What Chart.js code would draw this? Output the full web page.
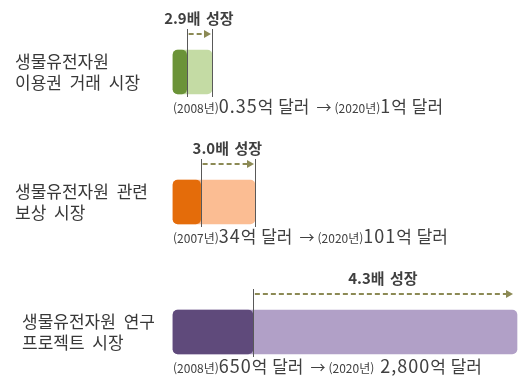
<!DOCTYPE html>
<html lang="ko">
<head>
<meta charset="utf-8">
<script src="https://cdn.jsdelivr.net/npm/chart.js@4.4.1/dist/chart.umd.min.js"></script>
<style>
  html, body { margin: 0; padding: 0; background: #fff; }
  #wrap { width: 518px; height: 380px; position: relative; }
</style>
</head>
<body>
<div id="wrap"><canvas id="growth"></canvas></div>
<script>
// market names (two lines each), base year values and 2020 values, in 억 달러
const marketNames = [
  ["생물유전자원", "이용권 거래 시장"],
  ["생물유전자원 관련", "보상 시장"],
  ["생물유전자원 연구", "프로젝트 시장"],
];
const baseYears = [2008, 2007, 2008];
const targetYear = 2020;
const baseValues = [0.35, 34, 650];
const targetValues = [1, 101, 2800];

const darkColors = ["#6b9338", "#e46c0a", "#5f4a7b"];
const lightColors = ["#c4dba4", "#fbbd93", "#b1a0c7"];
const scaleMax = [8.82, 423.7, 2800];
const nameLeft = [15, 15, 22];
const endMarker = [true, true, false];
const FONT = '"Noto Sans CJK KR", "Noto Sans", sans-serif';

function onlyRow(row, value) {
  return marketNames.map((_, i) => (i === row ? value : null));
}

function formatValue(v) {
  return v.toLocaleString("en-US");
}

const datasets = [];
marketNames.forEach((_, i) => {
  datasets.push({
    label: `${targetYear}`,
    data: onlyRow(i, targetValues[i]),
    xAxisID: "x" + i,
    backgroundColor: lightColors[i],
    order: 2,
  });
  datasets.push({
    label: `${baseYears[i]}`,
    data: onlyRow(i, baseValues[i]),
    xAxisID: "x" + i,
    backgroundColor: darkColors[i],
    order: 1,
  });
});

const scales = {
  y: { type: "category", offset: false, display: false, grid: { display: false } },
};
scaleMax.forEach((max, i) => {
  scales["x" + i] = { type: "linear", min: 0, max: max, display: false, grid: { display: false } };
});

function drawArrow(ctx, x1, x2, y) {
  ctx.save();
  ctx.strokeStyle = "#8c8a55";
  ctx.fillStyle = "#8c8a55";
  ctx.lineWidth = 2;
  ctx.setLineDash([5, 3]);
  ctx.beginPath();
  ctx.moveTo(x1, y);
  ctx.lineTo(x2 - 6, y);
  ctx.stroke();
  ctx.setLineDash([]);
  ctx.beginPath();
  ctx.moveTo(x2, y);
  ctx.lineTo(x2 - 7, y - 4);
  ctx.lineTo(x2 - 7, y + 4);
  ctx.closePath();
  ctx.fill();
  ctx.restore();
}

// one line of mixed-size text, left to right
function drawParts(ctx, parts, x, y) {
  parts.forEach((p) => {
    ctx.font = `${p.size}px ${FONT}`;
    ctx.wordSpacing = p.words || "0px";
    ctx.letterSpacing = p.letters || "0px";
    ctx.fillText(p.text, x, y);
    x += ctx.measureText(p.text).width + (p.after || 0);
  });
  ctx.wordSpacing = "0px";
  ctx.letterSpacing = "0px";
}

function valueParts(year, value, after) {
  return [
    { text: `(${year}년)`, size: 12, after: after },
    { text: formatValue(value), size: 18, letters: "1px" },
    { text: "억 달러", size: 17, words: "1px" },
  ];
}

const growthLabels = {
  id: "growthLabels",
  afterDatasetsDraw(chart) {
    const ctx = chart.ctx;
    ctx.save();

    marketNames.forEach((lines, i) => {
      const target = chart.getDatasetMeta(i * 2).data[i];
      const base = chart.getDatasetMeta(i * 2 + 1).data[i];
      const top = target.y - target.height / 2;
      const bottom = target.y + target.height / 2;
      const left = target.base;

      // market name
      ctx.fillStyle = "#383838";
      ctx.textAlign = "left";
      ctx.textBaseline = "middle";
      ctx.font = `17px ${FONT}`;
      ctx.wordSpacing = "4px";
      ctx.fillText(lines[0], nameLeft[i], target.y - 10);
      ctx.fillText(lines[1], nameLeft[i], target.y + 11);
      ctx.wordSpacing = "0px";

      // markers at the base value (and the 2020 value)
      ctx.strokeStyle = "#595959";
      ctx.lineWidth = 1;
      const marks = endMarker[i] ? [base.x, target.x] : [base.x];
      marks.forEach((x) => {
        ctx.beginPath();
        ctx.moveTo(Math.round(x) + 0.5, top - 21);
        ctx.lineTo(Math.round(x) + 0.5, bottom + 3);
        ctx.stroke();
      });

      const arrowEnd = endMarker[i] ? target.x - 1 : target.x - 4;
      drawArrow(ctx, base.x + 2, arrowEnd, top - 16);

      const ratio = (targetValues[i] / baseValues[i]).toFixed(1);
      ctx.fillStyle = "#3f3f3f";
      ctx.textAlign = "center";
      ctx.font = `bold 15px ${FONT}`;
      ctx.wordSpacing = "2px";
      ctx.fillText(`${ratio}배 성장`, (base.x + arrowEnd) / 2, top - 32);
      ctx.wordSpacing = "0px";

      ctx.textAlign = "left";
      ctx.textBaseline = "alphabetic";
      ctx.fillStyle = "#404040";
      const parts = valueParts(baseYears[i], baseValues[i], 0);
      parts[2].after = 7;
      parts.push({ text: "→", size: 15, after: 3 });
      drawParts(ctx, parts.concat(valueParts(targetYear, targetValues[i], i === 2 ? 6 : 0)), left, bottom + 19);
    });
    ctx.restore();
  },
};

new Chart(document.getElementById("growth"), {
  type: "bar",
  data: { labels: marketNames.map((l) => l.join(" ")), datasets },
  options: {
    indexAxis: "y",
    responsive: true,
    maintainAspectRatio: false,
    animation: false,
    layout: { padding: { left: 173, right: 1, top: 72, bottom: 48 } },
    datasets: {
      bar: {
        grouped: false,
        skipNull: true,
        barThickness: 44,
        borderRadius: 5,
        borderSkipped: false,
        clip: false,
      },
    },
    plugins: { legend: { display: false }, tooltip: { enabled: false } },
    scales,
  },
  plugins: [growthLabels],
});
</script>
</body>
</html>
